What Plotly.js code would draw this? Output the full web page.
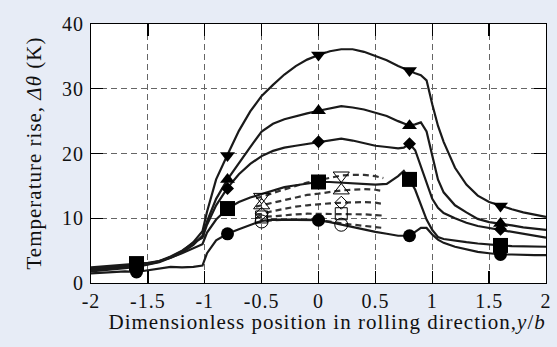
<!DOCTYPE html>
<html>
<head>
<meta charset="utf-8">
<script src="https://cdn.plot.ly/plotly-3.0.1.min.js"></script>
<style>
html,body{margin:0;padding:0;background:#E7ECF6;}
#chart{width:557px;height:347px;}
#chart .annotation-text{letter-spacing:1px;}
#chart .xtick text, #chart .ytick text{letter-spacing:1px;}
</style>
</head>
<body>
<div id="chart"></div>
<script>
// Dimensionless position y/b for the measured (solid) curves
const xSolid = [-2, -1.85, -1.7, -1.6, -1.5, -1.4, -1.3, -1.2, -1.1, -1.02, -0.98, -0.9, -0.8, -0.7, -0.6, -0.5, -0.4, -0.3, -0.2, -0.1, 0, 0.1, 0.2, 0.3, 0.4, 0.5, 0.6, 0.7, 0.75, 0.8, 0.85, 0.9, 0.95, 1.0, 1.05, 1.1, 1.2, 1.3, 1.4, 1.5, 1.6, 1.7, 1.8, 1.9, 2.0];
const tDown   = [2.0, 2.2, 2.4, 2.6, 2.9, 3.3, 4.0, 4.9, 6.3, 8.0, 11.0, 16.0, 19.8, 23.5, 26.5, 28.9, 30.6, 32.2, 33.5, 34.5, 35.2, 35.8, 36.1, 36.1, 35.7, 35.1, 34.4, 33.5, 33.1, 32.7, 32.4, 32.1, 31.3, 27.6, 24.3, 21.8, 17.8, 15.2, 13.5, 12.5, 11.9, 11.4, 10.9, 10.5, 10.2];
const tUp     = [1.8, 2.0, 2.3, 2.5, 2.8, 3.2, 3.9, 4.7, 5.9, 7.3, 9.5, 13.0, 16.0, 18.6, 21.0, 23.4, 24.6, 25.3, 25.8, 26.2, 26.6, 27.0, 27.3, 27.1, 26.8, 26.3, 25.8, 25.0, 24.6, 24.3, 24.5, 24.8, 23.4, 19.5, 16.0, 14.0, 12.0, 10.9, 9.9, 9.4, 9.2, 8.9, 8.6, 8.4, 8.2];
const tDiam   = [2.2, 2.4, 2.6, 2.8, 3.0, 3.4, 4.1, 5.0, 6.2, 7.0, 9.0, 12.0, 14.7, 16.8, 18.4, 19.6, 20.4, 20.9, 21.2, 21.5, 21.8, 22.1, 22.3, 22.0, 21.6, 21.2, 21.0, 20.8, 20.9, 21.5, 20.5, 18.0, 15.2, 13.0, 11.6, 10.8, 10.0, 9.3, 8.8, 8.5, 8.3, 7.9, 7.6, 7.3, 7.0];
const tSquare = [2.4, 2.6, 2.8, 3.0, 3.1, 3.4, 3.9, 4.6, 5.4, 6.0, 7.8, 9.8, 11.5, 12.5, 13.2, 13.7, 14.2, 14.8, 15.1, 15.4, 15.6, 15.6, 15.5, 15.4, 15.3, 15.2, 15.3, 16.5, 17.3, 16.0, 14.4, 12.0, 9.8, 8.2, 7.1, 6.8, 6.5, 6.3, 6.1, 5.9, 5.8, 5.7, 5.7, 5.6, 5.6];
const tCircle = [1.5, 1.7, 1.8, 1.7, 2.0, 2.2, 2.5, 2.4, 2.5, 2.7, 4.6, 6.6, 7.6, 8.3, 9.0, 9.6, 9.8, 9.8, 9.8, 9.7, 9.7, 9.4, 9.0, 8.7, 8.3, 7.9, 7.6, 7.3, 7.3, 7.4, 7.9, 8.5, 8.5, 7.5, 6.7, 6.2, 5.6, 5.2, 4.8, 4.6, 4.4, 4.4, 4.3, 4.3, 4.3];

// Marker positions on the solid curves
const markSolidX = [-1.6, -0.8, 0, 0.8, 1.6];
const mDown   = [2.6, 19.7, 35.2, 32.8, 11.9];
const mUp     = [2.5, 16.0, 26.6, 24.3, 9.2];
const mDiam   = [2.8, 14.6, 21.8, 21.5, 8.3];
const mSquare = [3.0, 11.5, 15.6, 16.0, 5.8];
const mCircle = [1.7, 7.6, 9.7, 7.3, 4.4];

// Calculated (dashed) curves
const xDash = [-0.55, -0.5, -0.4, -0.3, -0.2, -0.1, 0, 0.1, 0.2, 0.3, 0.4, 0.5, 0.57];
const dDown   = [13.1, 13.3, 13.9, 14.5, 15.0, 15.5, 15.9, 16.3, 16.6, 16.7, 16.7, 16.5, 16.2];
const dUp     = [11.8, 12.0, 12.5, 12.9, 13.3, 13.6, 13.8, 14.1, 14.3, 14.4, 14.5, 14.4, 14.2];
const dDiam   = [10.6, 10.7, 11.1, 11.5, 11.8, 12.0, 12.2, 12.3, 12.4, 12.5, 12.5, 12.4, 12.2];
const dSquare = [10.0, 10.2, 10.3, 10.5, 10.6, 10.7, 10.7, 10.7, 10.7, 10.7, 10.6, 10.5, 10.4];
const dCircle = [9.3, 9.5, 9.7, 9.8, 9.8, 9.8, 9.7, 9.5, 9.2, 9.0, 8.8, 8.6, 8.5];

const markDashX = [-0.5, 0.2];
const oDown   = [13.3, 16.6];
const oUp     = [12.0, 14.3];
const oDiam   = [10.7, 12.4];
const oSquare = [10.2, 10.7];
const oCircle = [9.5, 9.0];

const xTicks = [-2, -1.5, -1, -0.5, 0, 0.5, 1, 1.5, 2];
const xTickText = ['-2', '-1.5', '-1', '-0.5', '0', '0.5', '1', '1.5', '2'];
const yTicks = [0, 10, 20, 30, 40];
const yTickText = ['0', '10', '20', '30', '40'];

const xTitle = 'Dimensionless position in rolling direction,<i>y</i>/<i>b</i>';
const yTitle = 'Temperature rise, <i>Δθ</i> (K)';

const lineCol = '#1a1a1a';
const traces = [];

const dashed = [
  [dDown, oDown, 'triangle-down-open', 14],
  [dUp, oUp, 'triangle-up-open', 14],
  [dDiam, oDiam, 'diamond-open', 10],
  [dSquare, oSquare, 'square-open', 12],
  [dCircle, oCircle, 'circle-open', 13]
];
dashed.forEach(function (d) {
  traces.push({x: xDash, y: d[0], mode: 'lines', type: 'scatter', hoverinfo: 'skip',
    line: {color: '#333', width: 2.2, dash: '6px,4px'}});
});

const solid = [
  [tDown, mDown, 'triangle-down', 13],
  [tUp, mUp, 'triangle-up', 13],
  [tDiam, mDiam, 'diamond', 10],
  [tSquare, mSquare, 'square', 15],
  [tCircle, mCircle, 'circle', 13]
];
solid.forEach(function (s) {
  traces.push({x: xSolid, y: s[0], mode: 'lines', type: 'scatter', hoverinfo: 'skip',
    line: {color: lineCol, width: 2.2}});
});
dashed.forEach(function (d) {
  traces.push({x: markDashX, y: d[1], mode: 'markers', type: 'scatter',
    marker: {symbol: d[2], size: d[3], color: '#000', line: {width: 1, color: '#000'}}});
});
[4, 2, 1, 0, 3].forEach(function (i) {
  const s = solid[i];
  traces.push({x: markSolidX, y: s[1], mode: 'markers', type: 'scatter',
    marker: {symbol: s[2], size: s[3], color: '#000', line: {width: 0}}});
});

const axisCommon = {
  showline: true, linecolor: '#000', linewidth: 1, mirror: 'ticks',
  ticks: 'inside', ticklen: 12, tickwidth: 1.3, tickcolor: '#000',
  showgrid: true, gridcolor: '#666', gridwidth: 1, griddash: '6px,4px',
  zeroline: false, tickfont: {family: 'Liberation Serif', size: 20, color: '#111'}
};

const titleFont = {family: 'Liberation Serif', size: 21, color: '#111'};

const layout = {
  width: 557, height: 347,
  margin: {l: 91, r: 11, t: 24, b: 64},
  paper_bgcolor: '#E7ECF6', plot_bgcolor: '#FFFFFF',
  showlegend: false,
  font: {family: 'Liberation Serif', color: '#111'},
  xaxis: Object.assign({}, axisCommon, {range: [-2, 2], tickvals: xTicks, ticktext: xTickText}),
  yaxis: Object.assign({}, axisCommon, {range: [0, 40], tickvals: yTicks, ticktext: yTickText, ticklabelstandoff: 2}),
  annotations: [
    {text: xTitle, xref: 'paper', yref: 'paper', x: 0.5, y: 0, xanchor: 'center', yanchor: 'top',
     xshift: 8, yshift: -25, showarrow: false, font: titleFont},
    {text: yTitle, xref: 'paper', yref: 'paper', x: 0, y: 0.5, xanchor: 'center', yanchor: 'middle',
     xshift: -58, textangle: -90, showarrow: false, font: titleFont}
  ]
};

Plotly.newPlot('chart', traces, layout, {displayModeBar: false, staticPlot: true});
</script>
</body>
</html>
